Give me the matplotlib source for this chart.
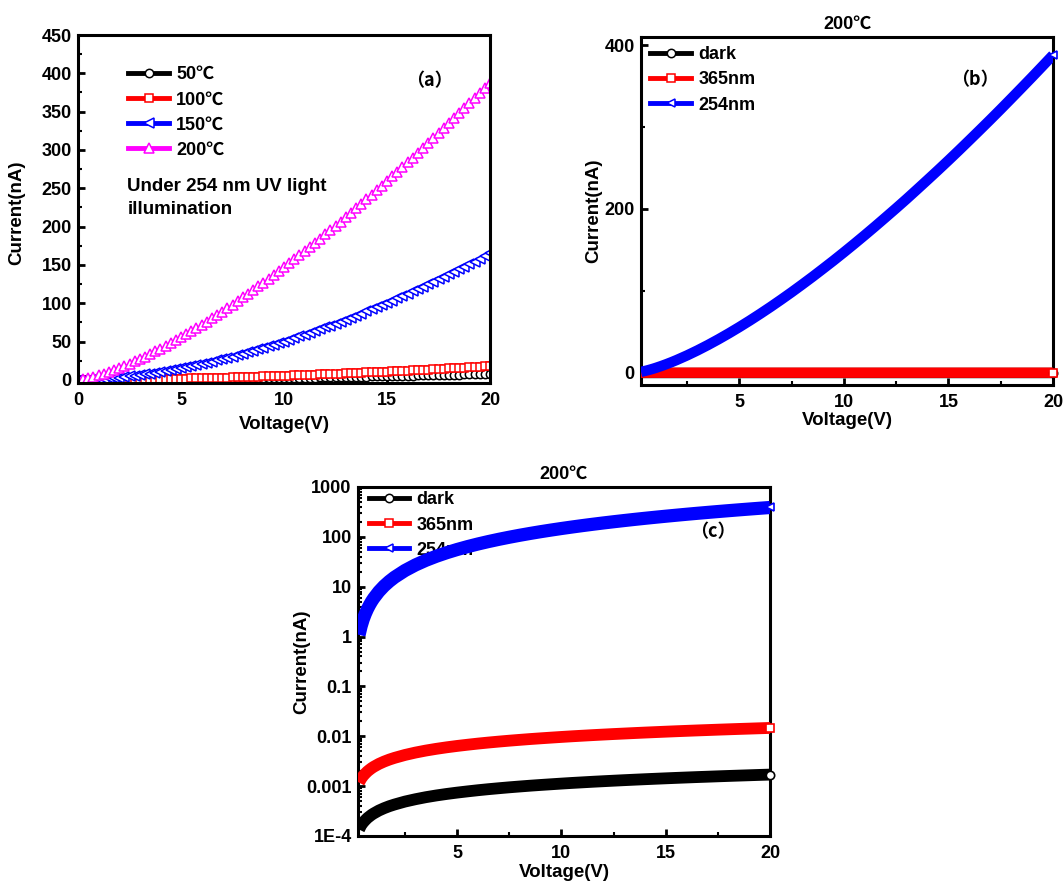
import matplotlib
matplotlib.use('Agg')
import matplotlib.pyplot as plt
from matplotlib.lines import Line2D
from matplotlib.ticker import MultipleLocator, LogLocator, NullFormatter

plt.rcParams['font.family'] = ['Liberation Sans', 'Noto Sans CJK SC', 'DejaVu Sans']
plt.rcParams['font.weight'] = 'bold'
plt.rcParams['axes.labelweight'] = 'bold'
plt.rcParams['font.size'] = 13

# ---------------- data: panel (a) ----------------
voltage_a = [0, 0.25, 0.5, 0.75, 1, 1.25, 1.5, 1.75, 2, 2.25, 2.5, 2.75, 3, 3.25, 3.5, 3.75,
             4, 4.25, 4.5, 4.75, 5, 5.25, 5.5, 5.75, 6, 6.25, 6.5, 6.75, 7, 7.25, 7.5, 7.75,
             8, 8.25, 8.5, 8.75, 9, 9.25, 9.5, 9.75, 10, 10.25, 10.5, 10.75, 11, 11.25, 11.5, 11.75,
             12, 12.25, 12.5, 12.75, 13, 13.25, 13.5, 13.75, 14, 14.25, 14.5, 14.75, 15, 15.25, 15.5, 15.75,
             16, 16.25, 16.5, 16.75, 17, 17.25, 17.5, 17.75, 18, 18.25, 18.5, 18.75, 19, 19.25, 19.5, 19.75, 20]

i_50C = [0, 0.0, 0.01, 0.03, 0.05, 0.07, 0.09, 0.12, 0.15, 0.19, 0.23, 0.27, 0.31, 0.36, 0.41, 0.45,
         0.51, 0.56, 0.62, 0.68, 0.75, 0.81, 0.88, 0.95, 1.02, 1.09, 1.17, 1.25, 1.33, 1.41, 1.50, 1.58,
         1.67, 1.76, 1.86, 1.95, 2.05, 2.15, 2.25, 2.35, 2.46, 2.57, 2.67, 2.78, 2.89, 3.01, 3.12, 3.24,
         3.36, 3.48, 3.60, 3.73, 3.86, 3.99, 4.12, 4.25, 4.38, 4.52, 4.65, 4.79, 4.94, 5.08, 5.22, 5.36,
         5.51, 5.67, 5.81, 5.96, 6.12, 6.27, 6.43, 6.59, 6.75, 6.91, 7.08, 7.24, 7.41, 7.58, 7.74, 7.92, 8.10]

i_100C = [0, 0.01, 0.03, 0.06, 0.10, 0.15, 0.21, 0.27, 0.34, 0.42, 0.50, 0.59, 0.69, 0.79, 0.90, 1.01,
          1.13, 1.25, 1.38, 1.52, 1.66, 1.80, 1.95, 2.11, 2.27, 2.43, 2.60, 2.78, 2.96, 3.14, 3.33, 3.52,
          3.72, 3.92, 4.13, 4.34, 4.55, 4.77, 5.00, 5.23, 5.46, 5.70, 5.94, 6.18, 6.43, 6.68, 6.94, 7.20,
          7.47, 7.74, 8.01, 8.29, 8.57, 8.86, 9.15, 9.44, 9.74, 10.04, 10.34, 10.65, 10.97, 11.28, 11.60, 11.92,
          12.25, 12.59, 12.92, 13.25, 13.59, 13.94, 14.29, 14.65, 15.00, 15.36, 15.73, 16.09, 16.47, 16.84, 17.21, 17.60, 17.99]

i_150C = [0, 0.09, 0.29, 0.58, 0.95, 1.40, 1.92, 2.50, 3.14, 3.85, 4.61, 5.44, 6.31, 7.25, 8.23, 9.27,
          10.36, 11.49, 12.68, 13.92, 15.20, 16.53, 17.91, 19.33, 20.80, 22.32, 23.88, 25.47, 27.12, 28.81, 30.54, 32.31,
          34.12, 35.97, 37.87, 39.80, 41.78, 43.79, 45.85, 47.95, 50.07, 52.25, 54.45, 56.70, 58.99, 61.32, 63.68, 66.09,
          68.52, 71.00, 73.51, 76.06, 78.63, 81.27, 83.92, 86.60, 89.35, 92.11, 94.89, 97.72, 100.6, 103.5, 106.4, 109.4,
          112.4, 115.5, 118.5, 121.6, 124.7, 127.9, 131.1, 134.4, 137.6, 140.9, 144.3, 147.6, 151.1, 154.5, 157.9, 161.5, 165.0]

i_200C = [1.5, 1.6, 2.4, 3.9, 5.85, 8.00, 10.33, 12.81, 15.45, 18.22, 21.11, 24.13, 27.25, 30.48, 33.81, 37.24,
          40.76, 44.37, 48.07, 51.85, 55.71, 59.65, 63.66, 67.76, 71.92, 76.13, 80.43, 84.83, 89.24, 93.71, 98.27, 102.9,
          107.6, 112.3, 117.1, 122.0, 126.9, 131.8, 136.8, 141.9, 147.0, 152.2, 157.4, 162.7, 168.0, 173.4, 178.8, 184.3,
          189.8, 195.3, 200.9, 206.5, 212.2, 218.0, 223.8, 229.6, 235.5, 241.4, 247.3, 253.3, 259.3, 265.4, 271.5, 277.7,
          283.9, 290.1, 296.4, 302.7, 309.0, 315.4, 321.8, 328.3, 334.8, 341.4, 347.9, 354.5, 361.1, 367.7, 374.5, 381.2, 388.0]

labels_a = ['50\u2103', '100\u2103', '150\u2103', '200\u2103']

# ---------------- data: panels (b) and (c), 200 C ----------------
voltage_bc = [0.3, 0.4, 0.5, 0.6, 0.7, 0.8, 0.9, 1.0, 1.25, 1.5, 1.75, 2, 2.5, 3, 3.5, 4, 4.5, 5,
              5.5, 6, 6.5, 7, 7.5, 8, 8.5, 9, 9.5, 10, 10.5, 11, 11.5, 12, 12.5, 13, 13.5, 14,
              14.5, 15, 15.5, 16, 16.5, 17, 17.5, 18, 18.5, 19, 19.5, 20]

i_dark = [0.000135, 0.000164, 0.000187, 0.000208, 0.000229, 0.000247, 0.000266, 0.000283, 0.000324,
          0.000361, 0.000396, 0.000428, 0.000490, 0.000546, 0.000600, 0.000650, 0.000697, 0.000742,
          0.000785, 0.000828, 0.000869, 0.000908, 0.000947, 0.000984, 0.001021, 0.001056, 0.001090,
          0.001125, 0.001159, 0.001191, 0.001224, 0.001255, 0.001286, 0.001317, 0.001347, 0.001377,
          0.001406, 0.001435, 0.001464, 0.001492, 0.001520, 0.001546, 0.001574, 0.001601, 0.001627,
          0.001653, 0.001680, 0.001705]

i_365 = [0.00118, 0.00141, 0.00161, 0.00179, 0.00197, 0.00213, 0.00229, 0.00244, 0.00279, 0.00311,
         0.00341, 0.00369, 0.00422, 0.00471, 0.00517, 0.00560, 0.00601, 0.00640, 0.00677, 0.00714,
         0.00749, 0.00783, 0.00816, 0.00848, 0.00880, 0.00910, 0.00940, 0.00970, 0.00999, 0.01027,
         0.01055, 0.01082, 0.01109, 0.01135, 0.01161, 0.01187, 0.01212, 0.01237, 0.01262, 0.01286,
         0.01310, 0.01333, 0.01357, 0.01380, 0.01403, 0.01425, 0.01448, 0.0147]

i_254 = [1.08, 1.62, 2.22, 2.86, 3.55, 4.28, 5.05, 5.85, 8.00, 10.33, 12.81, 15.45, 21.11, 27.25, 33.81,
         40.76, 48.07, 55.71, 63.66, 71.92, 80.43, 89.24, 98.27, 107.6, 117.1, 126.9, 136.8, 147.0,
         157.4, 168.0, 178.8, 189.8, 200.9, 212.2, 223.8, 235.5, 247.3, 259.3, 271.5, 283.9, 296.4,
         309.0, 321.8, 334.8, 347.9, 361.1, 374.5, 388.0]

labels_bc = ['dark', '365nm', '254nm']
log_ticks = [1e-4, 1e-3, 1e-2, 1e-1, 1, 10, 100, 1000]
log_ticklabels = ['1E-4', '0.001', '0.01', '0.1', '1', '10', '100', '1000']

CJK = ['Noto Sans CJK SC', 'DejaVu Sans']

# ---------------- figure ----------------
fig = plt.figure(figsize=(10.64, 8.82), dpi=100)
W, H = 1064.0, 882.0


def ax_at(l, t, r, b):
    return fig.add_axes([l / W, 1 - b / H, (r - l) / W, (b - t) / H])


axA = ax_at(78, 35, 490, 383)
axB = ax_at(641, 37, 1053, 385)
axC = ax_at(358, 487, 770, 836)


def style(ax):
    for s in ax.spines.values():
        s.set_linewidth(2.2)
    ax.tick_params(which='major', direction='in', length=5, width=2, labelsize=13,
                   top=False, right=False)
    ax.tick_params(axis='x', which='major', pad=6.5)
    ax.tick_params(axis='y', which='major', pad=4.5)
    ax.tick_params(which='minor', direction='in', length=3, width=1.5,
                   top=False, right=False)
    for lab in ax.get_xticklabels() + ax.get_yticklabels():
        lab.set_fontweight('bold')


# ---- panel (a) ----
cols_a = ['black', 'red', 'blue', '#FF00FF']
marks_a = ['o', 's', '<', '^']
sizes_a = [6, 5.5, 7.5, 7.5]
series_a = [i_50C, i_100C, i_150C, i_200C]
for ys, c, m, ms in zip(series_a, cols_a, marks_a, sizes_a):
    axA.plot(voltage_a, ys, color=c, lw=1, marker=m, ms=ms, mfc='white', mec=c, mew=1.1)
axA.set_xlim(0, 20)
axA.set_ylim(-4, 450)
axA.xaxis.set_major_locator(MultipleLocator(5))
axA.yaxis.set_major_locator(MultipleLocator(50))
axA.yaxis.set_minor_locator(MultipleLocator(25))
axA.set_xlabel('Voltage(V)', fontsize=13.5, fontweight='bold')
axA.set_ylabel('Current(nA)', fontsize=13.5, fontweight='bold')
axA.xaxis.set_label_coords(0.5, -0.096)
axA.yaxis.set_label_coords(-0.128, 0.49)
style(axA)
hA = [Line2D([], [], color=c, lw=3.5, marker=m, ms=ms, mfc='white', mec=c, mew=1.1)
      for c, m, ms in zip(cols_a, marks_a, sizes_a)]
legA = axA.legend(hA, labels_a, loc='upper left', bbox_to_anchor=(0.105, 0.931), frameon=False,
                  fontsize=13, handlelength=2.25, handletextpad=0.4, labelspacing=0.45,
                  borderaxespad=0)
axA.text(0.12, 0.59, 'Under 254 nm UV light\nillumination', transform=axA.transAxes,
         ha='left', va='top', fontsize=13.5, fontweight='bold', linespacing=1.5)
axA.text(0.852, 0.87, '\uff08a\uff09', transform=axA.transAxes, ha='center', va='center',
         fontsize=13, fontweight='bold', family=CJK)

# ---- panel (b) and (c) ----
cols_bc = ['black', 'red', 'blue']
marks_bc = ['o', 's', '<']
series_bc = [i_dark, i_365, i_254]
band_b = [7.5, 7.5, 7.5]
band_c = [8.5, 8.5, 9.5]

for ax, bands, anchor in ((axB, band_b, (0.005, 0.994)), (axC, band_c, (0.008, 1.008))):
    for ys, c, m, lw in zip(series_bc, cols_bc, marks_bc, bands):
        ax.plot(voltage_bc, ys, color=c, lw=lw, solid_capstyle='butt', zorder=3)
        ax.plot(voltage_bc[-1:], ys[-1:], ls='none', marker=m, ms=6, mfc='white', mec=c,
                mew=1.2, zorder=4, clip_on=False)
    hB = [Line2D([], [], color=c, lw=3.5, marker=m, ms=6, mfc='white', mec=c, mew=1.1)
          for c, m in zip(cols_bc, marks_bc)]
    leg = ax.legend(hB, labels_bc, loc='upper left', bbox_to_anchor=anchor, frameon=False,
                    fontsize=13, handlelength=2.25, handletextpad=0.4, labelspacing=0.45,
                    borderaxespad=0)
    leg.set_zorder(1)
    ax.set_title('200\u2103', fontsize=13, fontweight='bold', pad=6)
    ax.set_xlabel('Voltage(V)', fontsize=13.5, fontweight='bold')
    ax.set_ylabel('Current(nA)', fontsize=13.5, fontweight='bold')
    ax.xaxis.set_major_locator(MultipleLocator(5))
    ax.xaxis.set_minor_locator(MultipleLocator(2.5))

axB.set_xlim(0.3, 20)
axB.set_ylim(-15, 410)
axB.set_xticks([5, 10, 15, 20])
axB.yaxis.set_major_locator(MultipleLocator(200))
axB.yaxis.set_minor_locator(MultipleLocator(100))
axB.xaxis.set_label_coords(0.5, -0.078)
axB.yaxis.set_label_coords(-0.095, 0.5)
style(axB)
axB.text(0.81, 0.876, '\uff08b\uff09', transform=axB.transAxes, ha='center', va='center',
         fontsize=13, fontweight='bold', family=CJK)

axC.set_yscale('log')
axC.set_xlim(0.25, 20)
axC.set_ylim(1e-4, 1000)
axC.set_xticks([5, 10, 15, 20])
axC.set_yticks(log_ticks)
axC.set_yticklabels(log_ticklabels)
axC.yaxis.set_minor_locator(LogLocator(base=10, subs=[2, 3, 4, 5, 6, 7, 8, 9]))
axC.yaxis.set_minor_formatter(NullFormatter())
axC.xaxis.set_label_coords(0.5, -0.08)
axC.yaxis.set_label_coords(-0.116, 0.5)
style(axC)
axC.text(0.862, 0.871, '\uff08c\uff09', transform=axC.transAxes, ha='center', va='center',
         fontsize=13, fontweight='bold', family=CJK)

fig.savefig('out.png', dpi=100)
